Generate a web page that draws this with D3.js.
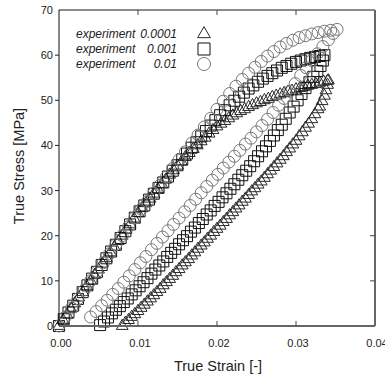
<!DOCTYPE html>
<html lang="en">
  <head>
    <meta charset="utf-8" />
    <title>True stress vs true strain</title>
    <script src="https://cdnjs.cloudflare.com/ajax/libs/d3/7.8.5/d3.min.js"></script>
    <style type="text/css">
      body { margin: 0; background: #fff; overflow: hidden; }
      svg { display: block; }
      text { font-family: "Liberation Sans", Arial, sans-serif; fill: #222; }
      .legend text { font-style: italic; font-size: 12px; }
      .tick-label { font-size: 11px; }
      .title { font-size: 14.5px; }
    </style>
  </head>

  <body>
    <div id="chart"></div>

    <script>
      // Tick values.
      const xTicks = [0, 0.01, 0.02, 0.03, 0.04];
      const yTicks = [0, 10, 20, 30, 40, 50, 60, 70];

      // Legend labels: [name, rate].
      const seriesLabels = [['experiment', '0.0001'], ['experiment', '0.001'], ['experiment', '0.01']];

      // Strain rate 0.0001 (triangles): [true strain, true stress MPa].
      const triLoad = [
        [0, 0], [0.0005, 1.3], [0.001, 2.5], [0.0015, 3.8], [0.002, 5.0], [0.0025, 6.3], [0.003, 7.5],
        [0.0035, 8.8], [0.004, 10.0], [0.0045, 11.3], [0.005, 12.5], [0.0055, 13.8], [0.006, 15.0],
        [0.0065, 16.3], [0.007, 17.5], [0.0075, 18.8], [0.008, 20.0], [0.0085, 21.3], [0.009, 22.5],
        [0.0095, 23.8], [0.01, 25.0], [0.0105, 26.1], [0.011, 27.2], [0.0115, 28.2], [0.012, 29.3],
        [0.0125, 30.3], [0.013, 31.4], [0.0135, 32.4], [0.014, 33.5], [0.0145, 34.5], [0.015, 35.5],
        [0.0155, 36.4], [0.016, 37.4], [0.0165, 38.3], [0.017, 39.2], [0.0175, 40.0], [0.018, 40.9],
        [0.0185, 41.7], [0.019, 42.6], [0.0195, 43.4], [0.02, 44.2], [0.0205, 44.8], [0.021, 45.4],
        [0.0215, 46.0], [0.022, 46.6], [0.0225, 47.1], [0.023, 47.6], [0.0235, 48.0], [0.024, 48.5],
        [0.0245, 48.9], [0.025, 49.3], [0.0255, 49.6], [0.026, 50.0], [0.0265, 50.3], [0.027, 50.7],
        [0.0275, 51.0], [0.028, 51.3], [0.0285, 51.6], [0.029, 51.9], [0.0295, 52.1], [0.03, 52.4],
        [0.0305, 52.7], [0.031, 52.9], [0.0315, 53.2], [0.032, 53.4], [0.0325, 53.6], [0.033, 53.9],
        [0.0335, 54.1], [0.034, 54.3]
      ];
      const triUnload = [
        [0.0341, 54.4], [0.034, 53.4], [0.0338, 52.2], [0.0336, 51.0], [0.0333, 49.8], [0.033, 48.6],
        [0.0328, 48.0], [0.0324, 46.9], [0.032, 45.8], [0.0316, 44.8], [0.0312, 43.9], [0.0308, 42.9],
        [0.0304, 42.0], [0.03, 41.0], [0.0296, 40.2], [0.0292, 39.3], [0.0288, 38.5], [0.0284, 37.6],
        [0.028, 36.8], [0.0276, 36.0], [0.0272, 35.2], [0.0268, 34.4], [0.0264, 33.6], [0.026, 32.8],
        [0.0256, 32.0], [0.0252, 31.3], [0.0248, 30.5], [0.0244, 29.8], [0.024, 29.0], [0.0236, 28.2],
        [0.0232, 27.5], [0.0228, 26.7], [0.0224, 26.0], [0.022, 25.2], [0.0216, 24.5], [0.0212, 23.7],
        [0.0208, 23.0], [0.0204, 22.2], [0.02, 21.5], [0.0196, 20.8], [0.0192, 20.0], [0.0188, 19.3],
        [0.0184, 18.5], [0.018, 17.8], [0.0176, 17.1], [0.0172, 16.3], [0.0168, 15.6], [0.0164, 14.8],
        [0.016, 14.1], [0.0156, 13.4], [0.0152, 12.6], [0.0148, 11.9], [0.0144, 11.1], [0.014, 10.4],
        [0.0136, 9.7], [0.0132, 9.0], [0.0128, 8.2], [0.0124, 7.5], [0.012, 6.8], [0.0116, 6.1],
        [0.0112, 5.4], [0.0108, 4.7], [0.0104, 4.0], [0.01, 3.3], [0.0096, 2.6], [0.0092, 2.0],
        [0.0088, 1.3], [0.0084, 0.7], [0.008, 0.0]
      ];

      // Strain rate 0.001 (squares).
      const sqLoad = [
        [0, 0], [0.0006, 1.5], [0.0012, 3.0], [0.0018, 4.5], [0.0024, 6.0], [0.003, 7.5], [0.0036, 9.0],
        [0.0042, 10.5], [0.0048, 12.0], [0.0054, 13.5], [0.006, 15.0], [0.0066, 16.5], [0.0072, 18.0],
        [0.0078, 19.5], [0.0084, 21.0], [0.009, 22.5], [0.0096, 24.0], [0.0102, 25.4], [0.0108, 26.7],
        [0.0114, 28.0], [0.012, 29.3], [0.0126, 30.6], [0.0132, 31.8], [0.0138, 33.1], [0.0144, 34.4],
        [0.015, 35.6], [0.0156, 36.9], [0.0162, 38.2], [0.0168, 39.5], [0.0174, 40.7], [0.018, 42.0],
        [0.0186, 43.2], [0.0192, 44.4], [0.0198, 45.6], [0.0204, 46.7], [0.021, 47.8], [0.0216, 48.9],
        [0.0222, 49.9], [0.0228, 50.8], [0.0234, 51.7], [0.024, 52.6], [0.0246, 53.3], [0.0252, 54.1],
        [0.0258, 54.8], [0.0264, 55.4], [0.027, 56.0], [0.0276, 56.6], [0.0282, 57.2], [0.0288, 57.6],
        [0.0294, 58.1], [0.03, 58.5], [0.0306, 58.8], [0.0312, 59.1], [0.0318, 59.4], [0.0324, 59.6],
        [0.033, 59.8], [0.0336, 60.0]
      ];
      const sqUnload = [
        [0.0334, 58.8], [0.0331, 57.6], [0.0327, 56.5], [0.0322, 55.2], [0.0317, 54.0], [0.0312, 52.7],
        [0.0307, 51.4], [0.0302, 50.0], [0.0297, 48.6], [0.0292, 47.3], [0.0287, 45.9], [0.0282, 44.6],
        [0.0277, 43.4], [0.0272, 42.2], [0.0267, 41.0], [0.0262, 39.8], [0.0257, 38.7], [0.0252, 37.6],
        [0.0247, 36.5], [0.0242, 35.4], [0.0237, 34.4], [0.0232, 33.4], [0.0227, 32.4], [0.0222, 31.4],
        [0.0217, 30.4], [0.0212, 29.4], [0.0207, 28.5], [0.0202, 27.5], [0.0197, 26.6], [0.0192, 25.6],
        [0.0187, 24.7], [0.0182, 23.7], [0.0177, 22.8], [0.0172, 21.8], [0.0167, 20.9], [0.0162, 19.9],
        [0.0157, 19.0], [0.0152, 18.1], [0.0147, 17.1], [0.0142, 16.2], [0.0137, 15.3], [0.0132, 14.3],
        [0.0127, 13.4], [0.0122, 12.5], [0.0117, 11.6], [0.0112, 10.6], [0.0107, 9.7], [0.0102, 8.8],
        [0.0097, 7.9], [0.0092, 7.0], [0.0087, 6.1], [0.0082, 5.3], [0.0077, 4.4], [0.0072, 3.6],
        [0.0067, 2.8], [0.0062, 1.9], [0.0057, 1.0], [0.0052, 0.2]
      ];

      // Strain rate 0.01 (circles).
      const circLoad = [
        [0, 0], [0.0008, 2.0], [0.0016, 4.0], [0.0024, 6.0], [0.0032, 8.0], [0.004, 10.0], [0.0048, 12.0],
        [0.0056, 14.0], [0.0064, 16.0], [0.0072, 18.0], [0.008, 20.0], [0.0088, 22.0], [0.0096, 24.0],
        [0.0104, 25.9], [0.0112, 27.6], [0.012, 29.4], [0.0128, 31.2], [0.0136, 33.0], [0.0144, 34.9],
        [0.0152, 36.8], [0.016, 38.6], [0.0168, 40.5], [0.0176, 42.3], [0.0184, 44.1], [0.0192, 46.0],
        [0.02, 48.0], [0.0208, 49.8], [0.0216, 51.5], [0.0224, 53.1], [0.0232, 54.6], [0.024, 56.0],
        [0.0248, 57.3], [0.0256, 58.6], [0.0264, 59.8], [0.0272, 60.8], [0.028, 61.8], [0.0288, 62.6],
        [0.0296, 63.3], [0.0304, 63.9], [0.0312, 64.3], [0.032, 64.7], [0.0328, 65.0], [0.0336, 65.3],
        [0.0344, 65.5], [0.0352, 65.7]
      ];
      const circUnload = [
        [0.0347, 64.8], [0.0341, 63.4], [0.0334, 61.9], [0.0327, 60.3], [0.032, 58.8], [0.0313, 57.2],
        [0.0306, 55.5], [0.0299, 53.7], [0.0292, 52.0], [0.0285, 50.4], [0.0278, 48.9], [0.0271, 47.3],
        [0.0264, 45.8], [0.0257, 44.4], [0.025, 43.0], [0.0243, 41.6], [0.0236, 40.3], [0.0229, 38.9],
        [0.0222, 37.6], [0.0215, 36.3], [0.0208, 35.0], [0.0201, 33.6], [0.0194, 32.3], [0.0187, 30.9],
        [0.018, 29.5], [0.0173, 28.1], [0.0166, 26.7], [0.0159, 25.3], [0.0152, 23.9], [0.0145, 22.5],
        [0.0138, 21.1], [0.0131, 19.7], [0.0124, 18.3], [0.0117, 16.9], [0.011, 15.4], [0.0103, 14.0],
        [0.0096, 12.5], [0.0089, 11.1], [0.0082, 9.7], [0.0075, 8.3], [0.0068, 7.0], [0.0061, 5.7],
        [0.0054, 4.5], [0.0047, 3.2], [0.004, 2.0]
      ];

      const width = 385;
      const height = 378;
      const margin = { top: 10, right: 10, bottom: 52, left: 59 };
      const innerWidth = width - margin.left - margin.right;
      const innerHeight = height - margin.top - margin.bottom;

      const svg = d3.select('#chart').append('svg')
        .attr('width', width)
        .attr('height', height);

      const g = svg.append('g')
        .attr('transform', `translate(${margin.left},${margin.top})`);

      const x = d3.scaleLinear().domain([0, 0.04]).range([0, innerWidth]);
      const y = d3.scaleLinear().domain([0, 70]).range([innerHeight, 0]);

      // Series: data, symbol type, area, colour.
      const series = [
        { data: triLoad.concat(triUnload), type: d3.symbolTriangle, size: 60, color: '#2a2a2a', legendSize: 70 },
        { data: sqLoad.concat(sqUnload), type: d3.symbolSquare, size: 121, color: '#111', legendSize: 144 },
        { data: circLoad.concat(circUnload), type: d3.symbolCircle, size: 113, color: '#777', legendSize: 133 }
      ];

      series.forEach(s => {
        g.append('g')
          .selectAll('path')
          .data(s.data)
          .join('path')
            .attr('transform', d => `translate(${x(d[0])},${y(d[1])})`)
            .attr('d', d3.symbol(s.type, s.size))
            .attr('fill', 'none')
            .attr('stroke', s.color)
            .attr('stroke-width', 1);
      });

      // Frame.
      g.append('line').attr('x1', 0).attr('x2', innerWidth).attr('y1', 0).attr('y2', 0)
        .attr('stroke', '#666').attr('stroke-width', 1.5);
      g.append('line').attr('x1', innerWidth).attr('x2', innerWidth).attr('y1', 0).attr('y2', innerHeight)
        .attr('stroke', '#666').attr('stroke-width', 2);
      g.append('line').attr('x1', 0).attr('x2', innerWidth).attr('y1', innerHeight).attr('y2', innerHeight)
        .attr('stroke', '#666').attr('stroke-width', 2);
      g.append('line').attr('x1', 0).attr('x2', 0).attr('y1', 0).attr('y2', innerHeight)
        .attr('stroke', '#111').attr('stroke-width', 1);

      // Ticks.
      const tickFmtX = d3.format('.2f');
      g.append('g').selectAll('line')
        .data(xTicks.slice(1, -1))
        .join('line')
          .attr('x1', d => x(d)).attr('x2', d => x(d))
          .attr('y1', innerHeight).attr('y2', innerHeight - 5)
          .attr('stroke', '#444');
      g.append('g').selectAll('line')
        .data(xTicks.slice(1, -1))
        .join('line')
          .attr('x1', d => x(d)).attr('x2', d => x(d))
          .attr('y1', 0).attr('y2', 5)
          .attr('stroke', '#444');
      g.append('g').selectAll('line')
        .data(yTicks.slice(1, -1))
        .join('line')
          .attr('x1', -4).attr('x2', 0)
          .attr('y1', d => y(d)).attr('y2', d => y(d))
          .attr('stroke', '#222');
      g.append('g').selectAll('line')
        .data(yTicks.slice(1, -1))
        .join('line')
          .attr('x1', innerWidth - 5).attr('x2', innerWidth)
          .attr('y1', d => y(d)).attr('y2', d => y(d))
          .attr('stroke', '#444');

      g.append('g').selectAll('text')
        .data(xTicks)
        .join('text')
          .attr('class', 'tick-label')
          .attr('x', d => x(d) + 2)
          .attr('y', innerHeight + 21)
          .attr('text-anchor', 'middle')
          .text(d => tickFmtX(d));

      g.append('g').selectAll('text')
        .data(yTicks)
        .join('text')
          .attr('class', 'tick-label')
          .attr('x', -6)
          .attr('y', d => y(d) + 4)
          .attr('text-anchor', 'end')
          .text(d => d);

      // Axis titles.
      svg.append('text')
        .attr('class', 'title')
        .attr('x', margin.left + innerWidth / 2 + 1)
        .attr('y', 371)
        .attr('text-anchor', 'middle')
        .text('True Strain [-]');

      svg.append('text')
        .attr('class', 'title')
        .attr('transform', 'translate(24,166) rotate(-90)')
        .attr('text-anchor', 'middle')
        .text('True Stress [MPa]');

      // Legend.
      const legend = svg.append('g').attr('class', 'legend');
      seriesLabels.forEach((lab, i) => {
        const ly = 34 + i * 15;
        legend.append('text').attr('x', 76).attr('y', ly + 4).text(lab[0]);
        legend.append('text').attr('x', 177).attr('y', ly + 4).attr('text-anchor', 'end').text(lab[1]);
        legend.append('path')
          .attr('transform', `translate(204,${ly})`)
          .attr('d', d3.symbol(series[i].type, series[i].legendSize))
          .attr('fill', 'none')
          .attr('stroke', series[i].color)
          .attr('stroke-width', 1);
      });
    </script>
  </body>
</html>
